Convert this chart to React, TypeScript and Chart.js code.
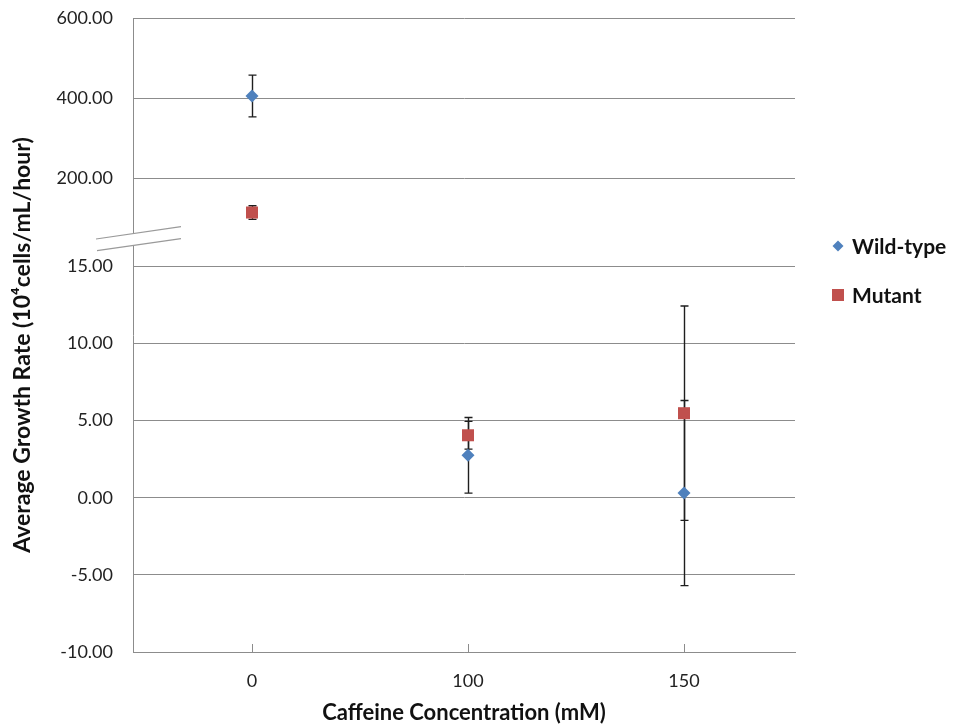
import React, { useEffect, useRef } from 'react';
import { Chart, registerables } from 'chart.js';

Chart.register(...registerables);

// ---- data ----
const categories = ['0', '100', '150'];
const wildType = [405.5, 2.75, 0.3];
const wildTypeErr = [52, 2.45, 6.0];
const mutant = [115, 4.05, 5.48];
const mutantErr = [17, 0.9, 6.95];
const yTickValues = [-10, -5, 0, 5, 10, 15, 200, 400, 600];
const seriesNames = ['Wild-type', 'Mutant'];
const seriesColors = ['#4F81BD', '#C0504D'];

// broken-axis mapping (values above the break are compressed)
const BREAK_LOW = 15;
const BREAK_HIGH = 200;
const GAP = 5.7;
const TOP_SCALE = 0.026;
function toDisplay(v: number): number {
  return v <= BREAK_LOW ? v : BREAK_LOW + GAP + (v - BREAK_HIGH) * TOP_SCALE;
}

const FONT = 'Lato, "Open Sans", sans-serif';
const GRID = '#8c8c8c';
const W = 954;
const H = 726;

const series = [
  { values: wildType, err: wildTypeErr },
  { values: mutant, err: mutantErr },
];

const customPlugin = {
  id: 'custom',
  beforeDatasetsDraw(chart: any) {
    const ctx = chart.ctx;
    const xs = chart.scales.x;
    const ys = chart.scales.y;
    ctx.save();
    ctx.strokeStyle = '#1e1e1e';
    ctx.lineWidth = 1.4;
    series.forEach((s) => {
      s.values.forEach((v, i) => {
        const px = Math.round(xs.getPixelForValue(i)) + 0.5;
        const top = ys.getPixelForValue(toDisplay(v + s.err[i]));
        const bot = ys.getPixelForValue(toDisplay(v - s.err[i]));
        ctx.beginPath();
        ctx.moveTo(px, top);
        ctx.lineTo(px, bot);
        ctx.moveTo(px - 4, top);
        ctx.lineTo(px + 4, top);
        ctx.moveTo(px - 4, bot);
        ctx.lineTo(px + 4, bot);
        ctx.stroke();
      });
    });
    ctx.restore();
  },
  afterDraw(chart: any) {
    const ctx = chart.ctx;
    const xs = chart.scales.x;
    const area = chart.chartArea;
    ctx.save();
    // inward tick marks on x axis
    ctx.strokeStyle = GRID;
    ctx.lineWidth = 1;
    categories.forEach((_, i) => {
      const px = Math.round(xs.getPixelForValue(i)) + 0.5;
      ctx.beginPath();
      ctx.moveTo(px, area.bottom);
      ctx.lineTo(px, area.bottom - 8);
      ctx.stroke();
    });
    // axis break symbol
    const l = area.left;
    ctx.fillStyle = '#ffffff';
    ctx.beginPath();
    ctx.moveTo(l - 37, 239);
    ctx.lineTo(l + 48, 226.7);
    ctx.lineTo(l + 48, 238.7);
    ctx.lineTo(l - 36, 250.7);
    ctx.closePath();
    ctx.fill();
    ctx.strokeStyle = '#9a9a9a';
    ctx.lineWidth = 1.2;
    ctx.beginPath();
    ctx.moveTo(l - 37, 239);
    ctx.lineTo(l + 48, 226.7);
    ctx.moveTo(l - 36, 250.7);
    ctx.lineTo(l + 48, 238.7);
    ctx.stroke();
    // y title
    ctx.fillStyle = '#111';
    ctx.font = `bold 23px ${FONT}`;
    ctx.textAlign = 'center';
    ctx.textBaseline = 'middle';
    ctx.translate(23, 345);
    ctx.rotate(-Math.PI / 2);
    ctx.fillText('Average Growth Rate (10\u2074cells/mL/hour)', 0, 0);
    ctx.restore();

    // legend
    ctx.save();
    const lx = 838;
    const ly = [246, 295];
    ctx.fillStyle = seriesColors[0];
    ctx.beginPath();
    ctx.moveTo(lx, ly[0] - 5.5);
    ctx.lineTo(lx + 5.5, ly[0]);
    ctx.lineTo(lx, ly[0] + 5.5);
    ctx.lineTo(lx - 5.5, ly[0]);
    ctx.closePath();
    ctx.fill();
    ctx.fillStyle = seriesColors[1];
    ctx.fillRect(lx - 6, ly[1] - 6, 12, 12);
    ctx.fillStyle = '#111';
    ctx.font = `bold 21px ${FONT}`;
    ctx.textAlign = 'left';
    ctx.textBaseline = 'middle';
    ctx.fillText(seriesNames[0], lx + 14, ly[0] + 1);
    ctx.fillText(seriesNames[1], lx + 14, ly[1] + 1);
    ctx.restore();
  },
};

export default function App() {
  const ref = useRef<HTMLCanvasElement>(null);
  useEffect(() => {
    if (!ref.current) return;
    const chart = new Chart(ref.current, {
      type: 'scatter',
      data: {
        datasets: [
          {
            label: seriesNames[0],
            data: wildType.map((v, i) => ({ x: i, y: toDisplay(v) })),
            pointStyle: 'rectRot',
            pointRadius: 6.5,
            backgroundColor: seriesColors[0],
            borderColor: seriesColors[0],
            borderWidth: 0,
          },
          {
            label: seriesNames[1],
            data: mutant.map((v, i) => ({ x: i, y: toDisplay(v) })),
            pointStyle: 'rect',
            pointRadius: 8.5,
            backgroundColor: seriesColors[1],
            borderColor: seriesColors[1],
            borderWidth: 0,
          },
        ],
      },
      options: {
        responsive: false,
        animation: false,
        events: [],
        layout: { padding: { top: 18, right: W - 795, left: 0, bottom: 0 } },
        plugins: {
          legend: { display: false },
          tooltip: { enabled: false },
        },
        scales: {
          x: {
            type: 'linear',
            min: -0.551,
            max: 2.514,
            afterBuildTicks: (scale: any) => {
              scale.ticks = categories.map((_, i) => ({ value: i }));
            },
            afterFit: (scale: any) => {
              scale.height = H - 652;
              scale.paddingLeft = 0;
              scale.paddingRight = 0;
            },
            ticks: {
              autoSkip: false,
              maxRotation: 0,
              padding: 18,
              color: '#222',
              font: { family: FONT, size: 18 },
              callback: (v: any) => categories[v as number] ?? '',
            },
            grid: { drawOnChartArea: false, drawTicks: false },
            border: { display: true, color: GRID, width: 1 },
            title: {
              display: true,
              text: 'Caffeine Concentration (mM)',
              color: '#111',
              font: { family: FONT, size: 22, weight: 'bold' },
              padding: { top: 0, bottom: 0 },
            },
          },
          y: {
            type: 'linear',
            min: -10,
            max: toDisplay(600),
            afterBuildTicks: (scale: any) => {
              scale.ticks = yTickValues.map((v) => ({ value: toDisplay(v) }));
            },
            afterFit: (scale: any) => {
              scale.width = 133;
              scale.paddingTop = 0;
              scale.paddingBottom = 0;
            },
            ticks: {
              autoSkip: false,
              padding: 20,
              color: '#222',
              font: { family: FONT, size: 18 },
              callback: (_v: any, idx: number) => yTickValues[idx].toFixed(2),
            },
            grid: { color: GRID, lineWidth: 1, drawTicks: false },
            border: { display: true, color: GRID, width: 1 },
          },
        },
      },
      plugins: [customPlugin],
    });
    return () => chart.destroy();
  }, []);
  return (
    <div style={{ position: 'absolute', left: 0, top: 0, width: W, height: H }}>
      <canvas ref={ref} width={W} height={H} style={{ display: 'block' }} />
    </div>
  );
}
